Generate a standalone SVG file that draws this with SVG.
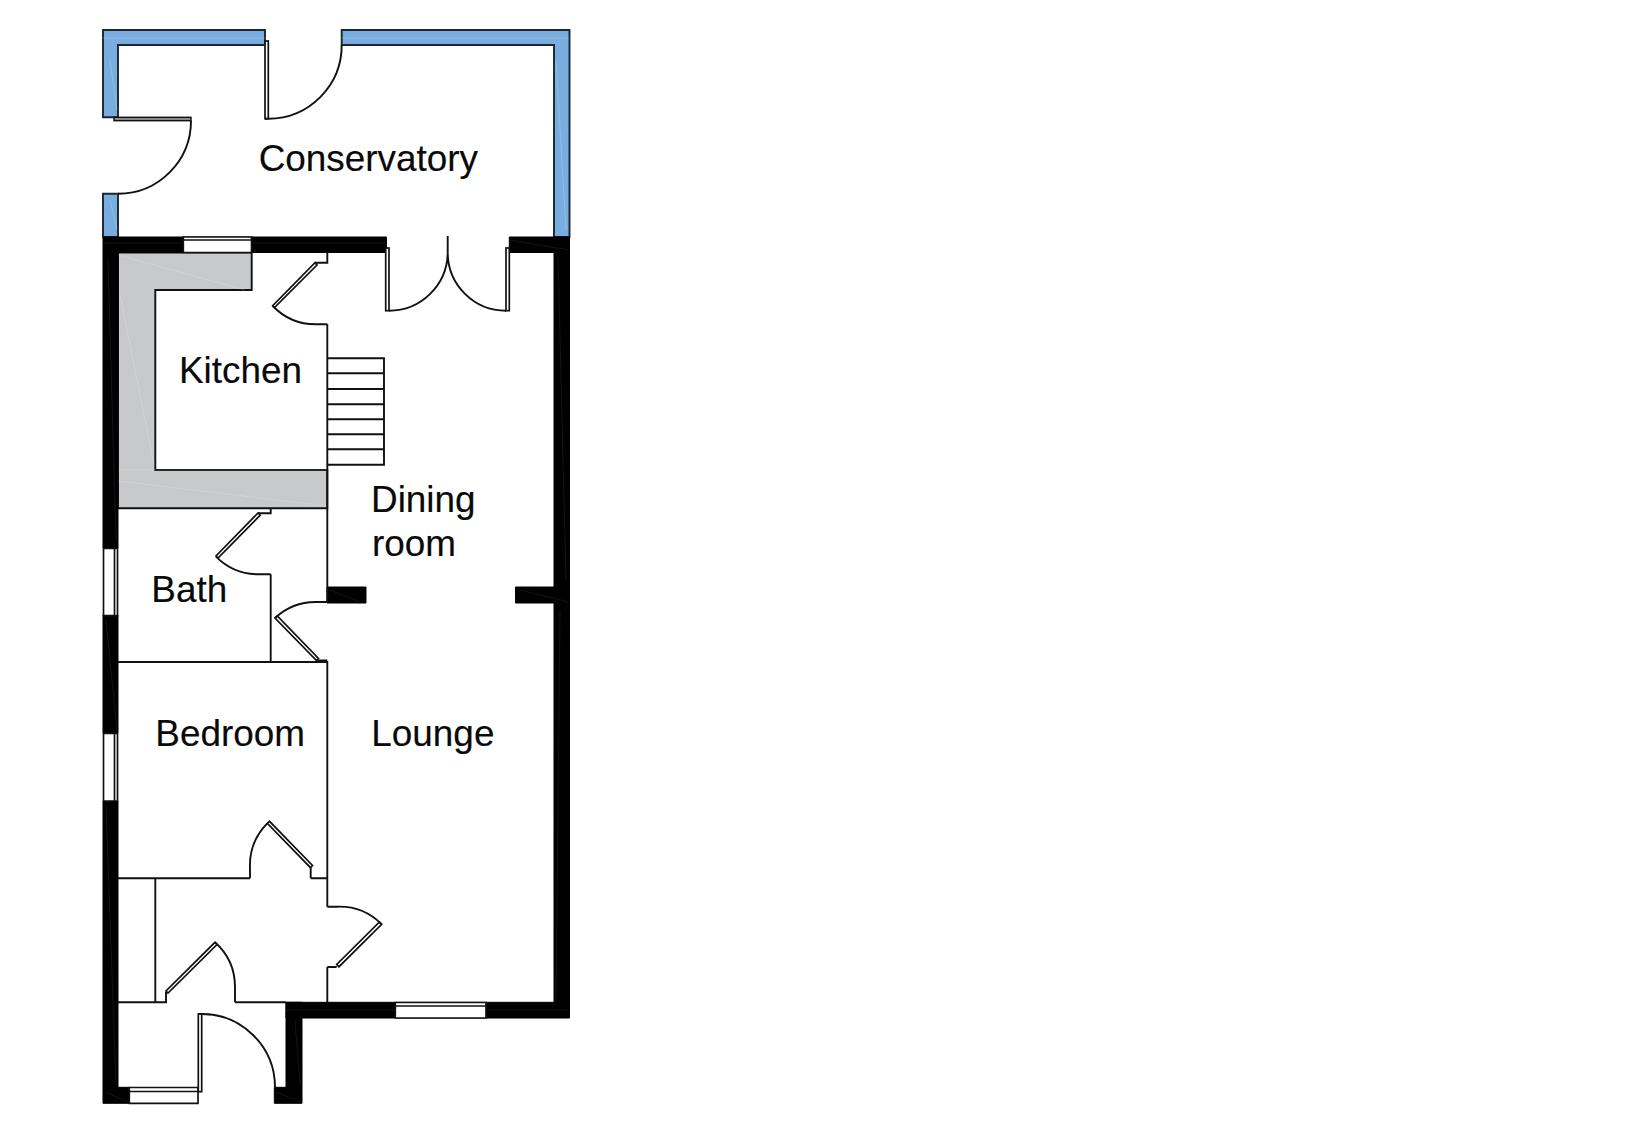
<svg xmlns="http://www.w3.org/2000/svg" width="1641" height="1131" viewBox="0 0 1641 1131">
<style>
text{font-family:"Liberation Sans",Arial,sans-serif;font-size:36.9px;fill:#0a0a0a;stroke:#0a0a0a;stroke-width:.15}
.l{fill:none;stroke:#111;stroke-width:1.9}
.blue{fill:#7aaddf;stroke:#1a2630;stroke-width:1.9}
.wall{fill:#000;stroke:#000;stroke-width:1}
.win{fill:#fff;stroke:#111;stroke-width:1.7}
.leaf{fill:#fff;stroke:#111;stroke-width:1.7}
.grey{fill:#c8c9ca;stroke:#111;stroke-width:1.9}
.faint{fill:none;stroke:#2a2a2a;stroke-width:.5}
.pale{fill:none;stroke:#fff;stroke-width:.6;opacity:.3}
</style>
<rect width="1641" height="1131" fill="#fff"/>
<g id="conservatory-walls">
<path class="blue" d="M103 30H265V45H118V117.3H103Z"/>
<path class="blue" d="M341.7 30H569.5V237H554V45H341.7Z"/>
<path class="blue" d="M103 193.7H118V237H103Z"/>
<path class="pale" d="M103 38H265M342 38H569M110 60L117 110M110 200L117 230M556 60L566 230"/>
</g>
<g id="grey-block">
<path class="grey" d="M118 252.5H251.7V290H155.3V470H327.3V508.3H118Z"/>
<path class="pale" d="M118 255L245 290M120 295L154 465M118 470H327M118 481L327 506"/>
</g>
<g id="outer-walls">
<path class="wall" d="M103 237H386.5V252.5H118V548H103Z"/>
<path class="wall" d="M509.3 237H569.5V1018H286V1002.3H554V252.5H509.3Z"/>
<path class="wall" d="M103 615H118V733H103Z"/>
<path class="wall" d="M103 801H118V1087.3H129.3V1103.3H103Z"/>
<path class="wall" d="M286 1002.3H302V1103.3H274.3V1087.3H286Z"/>
<path class="wall" d="M327 587H366V603H327Z"/>
<path class="wall" d="M515.5 587H554V603H515.5Z"/>
<path class="faint" d="M558 255L566 580M560 610L556 1000M108 260L116 540M106 620L117 730M106 805L116 1085M295 1020L300 1085M103 243H386M510 240L569 250M330 590L360 602M520 590L569 602M395 1010H286M486 1010H569M105 1092L128 1102M276 1092L300 1102"/>
</g>
<g id="windows">
<path class="win" d="M183.3 237H251.5V252.5H183.3ZM183.3 240H251.5"/>
<path class="win" d="M103.5 548.3H117.5V615.7H103.5ZM114.5 548.3V615.7"/>
<path class="win" d="M103.5 733.3H117.5V801H103.5ZM114.5 733.3V801"/>
<path class="win" d="M395.3 1002.5H486V1018H395.3ZM395.3 1006H486"/>
<path class="win" d="M129.3 1087.5H198V1103.3H129.3ZM129.3 1091.5H198"/>
</g>
<g id="partitions">
<path class="l" d="M327.3 324.3V602"/>
<path class="l" d="M270.7 574.3V662"/>
<path class="l" d="M118 662H327.3V906.7"/>
<path class="l" d="M118 878.3H250M310.7 878.3H327.3"/>
<path class="l" d="M155.3 878.3V1002.3"/>
<path class="l" d="M118 1002.3H166V992M235 1002.3H286"/>
<path class="l" d="M327.3 967V1002.3"/>
</g>
<g id="stairs">
<path class="l" d="M327.3 358.3H384V464.7H327.3M327.3 373.3H384M327.3 389H384M327.3 404.3H384M327.3 419.3H384M327.3 434.3H384M327.3 449.3H384"/>
</g>
<g id="door-conservatory-top">
<rect class="leaf" x="265" y="41" width="3.3" height="77.7"/>
<path class="l" d="M265 118.7H268.3A73.5 73.5 0 0 0 341.7 45"/>
</g>
<g id="door-conservatory-left">
<rect x="114" y="117.3" width="77" height="3.4" fill="#888" stroke="#111" stroke-width="1.4"/>
<path class="l" d="M191 120.7A73 73 0 0 1 118 193.7"/>
</g>
<g id="door-french">
<rect class="leaf" x="385.7" y="248" width="3.3" height="62.7"/>
<rect class="leaf" x="506" y="248" width="3.3" height="62.7"/>
<path class="l" d="M447.7 236V253A58.7 58.7 0 0 1 389 310.7M447.7 253A58.3 58.3 0 0 0 506 310.7"/>
</g>
<g id="door-kitchen">
<path class="l" d="M327.3 252.5V262.7H315"/>
<path class="leaf" d="M315 262.7L317 265L274.5 307.5L272.7 305.7Z"/>
<path class="l" d="M272.7 306A60 60 0 0 0 316.7 324.3H327.3"/>
</g>
<g id="door-bath">
<path class="l" d="M270.7 508.3V513.3H258"/>
<path class="leaf" d="M258 513L260.2 515.2L218 558L216 556Z"/>
<path class="l" d="M216 556.7A60 60 0 0 0 260 574.3H270.7"/>
</g>
<g id="door-hall-bath">
<path class="leaf" d="M275 618L277.3 616L318.5 658.5L316.5 660.5Z"/>
<path class="l" d="M316.7 660.5H327.3M275 618A60 60 0 0 1 317 602H327.3"/>
</g>
<g id="door-bedroom">
<path class="leaf" d="M267.3 823.3L269.5 821.3L312.5 865.5L310.5 867.7Z"/>
<path class="l" d="M310.7 867.7V878.3M250 878.3V868A60 60 0 0 1 267.3 823.3"/>
</g>
<g id="door-lounge">
<path class="leaf" d="M381.7 924.3L379.5 922L336.7 964.5L339 966.7Z"/>
<path class="l" d="M327.3 906.7H337A60 60 0 0 1 381.7 924.3M336.7 967H327.3"/>
</g>
<g id="door-hall">
<path class="leaf" d="M215 942.3L217 944.5L168 993L166 991Z"/>
<path class="l" d="M215 942.3A60 60 0 0 1 235 986.7V1002.3"/>
</g>
<g id="door-entry">
<rect class="leaf" x="198.3" y="1014" width="3.4" height="77.7"/>
<path class="l" d="M198.3 1014H201.7A73.3 73.3 0 0 1 275 1087.3"/>
</g>
<g id="labels">
<text x="258.7" y="171.3">Conservatory</text>
<text x="179" y="382.7">Kitchen</text>
<text x="371" y="512">Dining</text>
<text x="372" y="556">room</text>
<text x="151.3" y="601.7">Bath</text>
<text x="155.3" y="746">Bedroom</text>
<text x="371.3" y="746">Lounge</text>
</g>
</svg>
